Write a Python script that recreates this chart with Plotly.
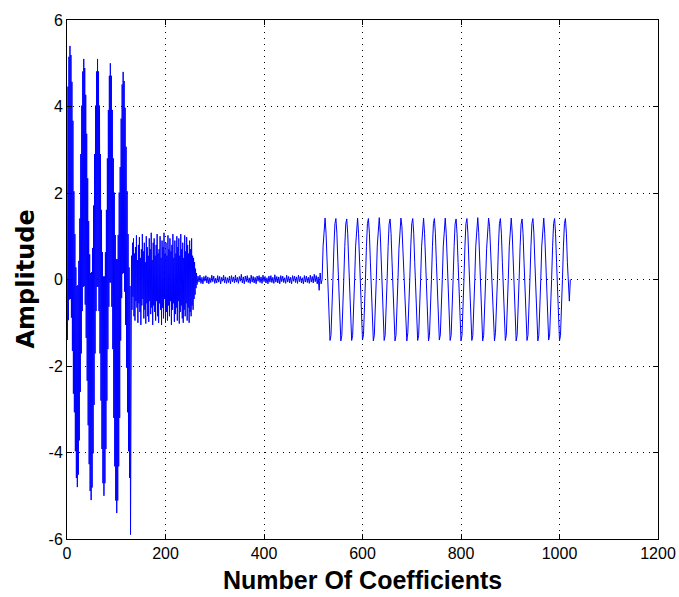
import numpy as np
import plotly.graph_objects as go

# ---- data ----
# segment A: coefficients 1..130 (step 1)
coef_a = [
    -1.40, 4.46, -0.94, 5.15, -0.46, 5.40, -0.45, 5.19, -0.88, 4.57,
    -1.65, 3.67, -2.64, 2.04, -3.07, 1.05, -3.97, 0.28, -4.59, -0.15,
    -4.80, -0.13, -4.51, 0.43, -3.72, 1.41, -2.60, 2.90, -1.71, 4.02,
    -0.73, 4.81, -0.17, 5.10, -0.15, 4.89, -0.58, 4.27, -1.35, 3.37,
    -2.34, 2.34, -3.37, 1.35, -4.27, 0.58, -4.89, 0.15, -5.10, 0.17,
    -4.81, 0.73, -4.02, 1.71, -2.90, 2.90, -1.71, 4.02, -0.73, 4.81,
    -0.17, 5.10, -0.17, 4.81, -0.73, 4.02, -1.71, 2.90, -2.80, 1.61,
    -3.92, 0.63, -4.71, 0.07, -5.00, 0.07, -4.71, 0.63, -3.92, 1.61,
    -2.80, 2.80, -1.61, 3.92, -0.63, 4.71, -0.07, 5.00, -0.07, 4.71,
    -0.63, 3.92, -1.61, 2.80, -3.20, 2.01, -4.32, 1.03, -5.11, 0.47,
    -5.40, 0.47, -5.11, 1.03, -4.32, 2.01, -3.20, 2.60, -1.41, 3.72,
    -0.43, 4.51, 0.13, 4.80, 0.15, 4.59, -0.28, 3.97, -1.05, 3.07,
    -2.04, 2.04, -3.07, 1.05, -3.97, 0.28, -4.59, -0.15, -5.90, -0.60,
]
start_a, step_a = 1, 1

# segment B: coefficients 131..265 (step 1)
coef_b = [
    0.55, -0.70, 0.85, -0.40, 0.95, -0.85, 0.60, -0.95, 0.75, -0.50,
    1.02, -0.65, 0.45, -1.00, 0.80, -0.55, 0.98, -0.75, 0.50, -1.05,
    0.70, -0.60, 1.05, -0.45, 0.65, -0.90, 0.85, -0.70, 0.40, -1.02,
    1.00, -0.55, 0.75, -0.85, 0.55, -0.98, 0.95, -0.50, 0.70, -0.80,
    1.08, -0.65, 0.45, -1.05, 0.85, -0.60, 0.95, -0.75, 0.55, -0.95,
    0.80, -0.50, 1.05, -0.85, 0.60, -1.00, 0.70, -0.55, 1.00, -0.70,
    0.50, -1.05, 0.90, -0.65, 0.75, -0.90, 1.08, -0.45, 0.60, -1.00,
    0.85, -0.75, 0.55, -0.95, 1.02, -0.60, 0.70, -0.85, 0.95, -0.50,
    0.65, -1.05, 0.80, -0.70, 1.05, -0.55, 0.50, -0.98, 0.90, -0.80,
    0.60, -0.65, 1.00, -0.95, 0.75, -0.50, 0.95, -1.02, 0.55, -0.75,
    1.05, -0.60, 0.70, -0.90, 0.85, -1.00, 0.50, -0.70, 1.02, -0.85,
    0.65, -0.55, 0.98, -0.95, 0.80, -0.65, 0.60, -1.00, 0.90, -0.75,
    0.70, -0.85, 0.95, -0.60, 0.55, -0.70, 0.50, -0.45, 0.40, -0.35,
    0.25, -0.20, 0.15, -0.12, 0.08,
]
start_b, step_b = 131, 1

# segment C: coefficients 266..514 (every 2nd)
coef_c = [
    0.08, -0.06, 0.10, -0.09, 0.05, -0.10, 0.07, -0.04, 0.09, -0.08,
    0.06, -0.10, 0.04, -0.07, 0.10, -0.05, 0.08, -0.09, 0.03, -0.08,
    0.09, -0.06, 0.07, -0.10, 0.05, -0.04, 0.10, -0.08, 0.06, -0.09,
    0.04, -0.07, 0.08, -0.10, 0.09, -0.05, 0.06, -0.08, 0.10, -0.06,
    0.05, -0.09, 0.07, -0.04, 0.12, -0.08, 0.06, -0.10, 0.08, -0.05,
    0.09, -0.07, 0.04, -0.09, 0.10, -0.06, 0.07, -0.08, 0.05, -0.10,
    0.08, -0.04, 0.09, -0.07, 0.06, -0.09, 0.10, -0.05, 0.07, -0.08,
    0.04, -0.10, 0.08, -0.06, 0.09, -0.07, 0.05, -0.09, 0.11, -0.06,
    0.07, -0.08, 0.06, -0.10, 0.09, -0.05, 0.08, -0.07, 0.04, -0.09,
    0.10, -0.06, 0.07, -0.08, 0.05, -0.10, 0.09, -0.04, 0.08, -0.07,
    0.06, -0.09, 0.10, -0.05, 0.07, -0.08, 0.04, -0.10, 0.09, -0.06,
    0.08, -0.07, 0.05, -0.09, 0.10, -0.06, 0.07, -0.08, 0.12, -0.05,
    0.09, -0.10, 0.06, -0.25, 0.15,
]
start_c, step_c = 266, 2

# segment D: coefficients 516..1022 (every 2nd), the regular oscillation
coef_d = [
    -0.10,
    0.00, 0.77, 1.29, 1.42, 1.07, 0.40, -0.40, -1.07, -1.41, -1.29, -0.77,
    0.00, 0.77, 1.29, 1.41, 1.07, 0.40, -0.40, -1.07, -1.42, -1.29, -0.77,
    0.00, 0.76, 1.28, 1.40, 1.06, 0.40, -0.40, -1.07, -1.41, -1.29, -0.77,
    0.00, 0.77, 1.29, 1.42, 1.07, 0.40, -0.40, -1.06, -1.40, -1.28, -0.76,
    0.00, 0.77, 1.29, 1.41, 1.07, 0.40, -0.40, -1.07, -1.42, -1.29, -0.77,
    0.00, 0.77, 1.30, 1.43, 1.08, 0.40, -0.40, -1.07, -1.41, -1.29, -0.77,
    0.00, 0.76, 1.28, 1.40, 1.06, 0.40, -0.40, -1.07, -1.42, -1.29, -0.77,
    0.00, 0.71, 1.23, 1.42, 1.23, 0.71, 0.00, -0.71, -1.23, -1.42, -1.23, -0.71,
    0.00, 0.77, 1.29, 1.41, 1.07, 0.40, -0.40, -1.07, -1.41, -1.29, -0.77,
    0.00, 0.77, 1.29, 1.42, 1.07, 0.40, -0.40, -1.07, -1.42, -1.29, -0.77,
    0.00, 0.77, 1.29, 1.41, 1.07, 0.40, -0.40, -1.06, -1.40, -1.28, -0.76,
    0.00, 0.77, 1.29, 1.42, 1.07, 0.40, -0.40, -1.07, -1.41, -1.29, -0.77,
    0.00, 0.76, 1.28, 1.40, 1.06, 0.40, -0.40, -1.07, -1.42, -1.29, -0.77,
    0.00, 0.77, 1.29, 1.41, 1.07, 0.40, -0.40, -1.07, -1.41, -1.29, -0.77,
    0.00, 0.77, 1.30, 1.43, 1.08, 0.40, -0.40, -1.07, -1.42, -1.29, -0.77,
    0.00, 0.71, 1.23, 1.42, 1.23, 0.71, 0.00, -0.71, -1.23, -1.42, -1.23, -0.71,
    0.00, 0.77, 1.29, 1.41, 1.07, 0.40, -0.40, -1.07, -1.41, -1.29, -0.77,
    0.00, 0.77, 1.29, 1.42, 1.07, 0.40, -0.40, -1.07, -1.42, -1.29, -0.77,
    0.00, 0.76, 1.28, 1.40, 1.06, 0.40, -0.40, -1.07, -1.41, -1.29, -0.77,
    0.00, 0.77, 1.29, 1.41, 1.07, 0.40, -0.40, -1.07, -1.42, -1.29, -0.77,
    0.00, 0.77, 1.29, 1.42, 1.07, 0.40, -0.40, -1.06, -1.40, -1.28, -0.76,
    0.00, 0.77, 1.29, 1.41, 1.07, 0.40, -0.40, -1.07, -1.42, -1.29, -0.77,
    0.00, 0.77, 1.29, 1.41, 1.07, 0.40, -0.30, -0.50, 0.00,
]
start_d, step_d = 516, 2

x_ticks = [0, 200, 400, 600, 800, 1000, 1200]
y_ticks = [-6, -4, -2, 0, 2, 4, 6]
x_label = "Number Of Coefficients"
y_label = "Amplitude"

# ---- build the series ----
xs, ys = [], []
for vals, start, step in [(coef_a, start_a, step_a), (coef_b, start_b, step_b),
                          (coef_c, start_c, step_c), (coef_d, start_d, step_d)]:
    xs.extend(start + step * np.arange(len(vals)))
    ys.extend(vals)

fig = go.Figure()
fig.add_trace(go.Scatter(x=xs, y=ys, mode="lines",
                         line=dict(color="#0000ff", width=1),
                         hoverinfo="skip", showlegend=False))

tick_font = dict(family="Liberation Sans, Arial, sans-serif", size=16, color="black")
axis_common = dict(showline=True, linecolor="black", linewidth=1, mirror="ticks",
                   ticks="inside", ticklen=5, tickcolor="black", tickwidth=1,
                   showgrid=True, gridcolor="black", gridwidth=1, griddash="1px,5px",
                   zeroline=False, tickfont=tick_font, automargin=False)

fig.update_layout(
    template="none",
    width=679, height=597,
    margin=dict(l=67, r=21, t=20, b=58, autoexpand=False),
    paper_bgcolor="white", plot_bgcolor="white",
    showlegend=False,
    xaxis=dict(range=[0, 1200], tickvals=x_ticks, ticktext=[str(v) for v in x_ticks], **axis_common),
    yaxis=dict(range=[-6, 6], tickvals=y_ticks, ticktext=[str(v) for v in y_ticks], **axis_common),
    annotations=[
        dict(text=x_label, xref="paper", yref="paper", x=0.5, y=0,
             xanchor="center", yanchor="middle", yshift=-41, showarrow=False,
             font=dict(family="Liberation Sans, Arial, sans-serif",
                       size=25, color="black", weight="bold")),
        dict(text=y_label, xref="paper", yref="paper", x=0, y=0.5,
             xanchor="center", yanchor="middle", xshift=-42, textangle=-90, showarrow=False,
             font=dict(family="DejaVu Sans, sans-serif", size=24, color="black", weight="bold")),
    ],
)

fig.write_html("out.html")
